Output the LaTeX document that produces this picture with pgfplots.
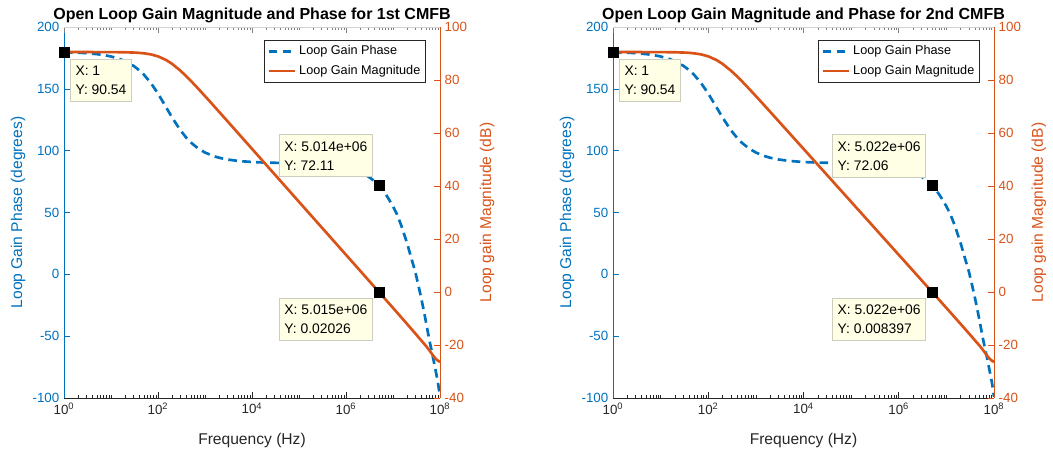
\documentclass[border=0pt]{standalone}
\usepackage{fontspec}
\setmainfont{Liberation Sans}
\usepackage{pgfplots}
\pgfplotsset{compat=1.18}
\usepackage{pgfplotstable}

\definecolor{mblue}{HTML}{0072BD}
\definecolor{morange}{HTML}{D95319}
\definecolor{mgray}{HTML}{262626}
\definecolor{tipfill}{HTML}{FFFFE5}
\definecolor{tipedge}{HTML}{CDCDC0}

% Loop gain phase (degrees)
\pgfplotstableread{
f ph
1 179.62
2 179.23
3 178.85
5 178.08
7 177.32
10 176.17
15 174.27
20 172.38
30 168.65
40 165.00
50 161.48
70 154.89
100 146.20
150 134.88
200 126.76
300 116.47
400 110.50
500 106.63
700 102.05
1000 98.50
1500 95.69
2000 94.27
3000 92.85
5000 91.71
1e4 90.82
2e4 90.36
5e4 89.99
1e5 89.72
2e5 89.30
5e5 88.17
1e6 86.31
2e6 82.66
3e6 79.00
4e6 75.50
5e6 72.11
6e6 68.30
7e6 64.80
8e6 61.30
1e7 55.00
1.2e7 49.00
1.5e7 39.50
2e7 25.00
2.5e7 12.00
3e7 1.50
3.5e7 -9.50
4e7 -19.50
4.5e7 -29.00
5e7 -38.00
5.5e7 -46.50
6e7 -54.00
7e7 -66.00
8e7 -77.00
9e7 -87.00
1e8 -99.00
}\phasetab

% Loop gain magnitude (dB)
\pgfplotstableread{
f m
1 90.54
3 90.54
7 90.53
10 90.52
15 90.50
20 90.46
30 90.37
40 90.24
50 90.08
70 89.68
100 88.93
150 87.51
200 86.08
300 83.52
400 81.42
500 79.68
700 76.93
1000 73.93
1500 70.46
2000 67.98
3000 64.47
5000 60.04
1e4 54.03
1e5 34.03
1e6 14.03
2e6 8.01
5e6 0.02
1e7 -6.00
2e7 -12.10
3e7 -15.70
4e7 -18.30
5e7 -20.30
6e7 -22.10
7e7 -23.80
8e7 -25.10
9e7 -25.90
1e8 -26.40
}\magtab

\tikzset{
  phasestyle/.style={mblue, line width=2pt, dash pattern=on 6.5pt off 4pt},
  magstyle/.style={morange, line width=2pt},
  datatip/.style={draw=tipedge, line width=0.5pt, fill=tipfill, align=left, text=black,
    font=\fontsize{10.4}{14.25}\selectfont, inner xsep=3.9pt, inner ysep=5pt},
}

\pgfplotsset{
  mybase/.style={
    scale only axis, height=278.25pt,
    xmin=1, xmax=1e8,
    xtick={1,1e2,1e4,1e6,1e8},
    minor xtick={2,3,4,5,6,7,8,9,10,20,30,40,50,60,70,80,90,
      200,300,400,500,600,700,800,900,1000,2000,3000,4000,5000,6000,7000,8000,9000,
      2e4,3e4,4e4,5e4,6e4,7e4,8e4,9e4,1e5,2e5,3e5,4e5,5e5,6e5,7e5,8e5,9e5,
      2e6,3e6,4e6,5e6,6e6,7e6,8e6,9e6,1e7,2e7,3e7,4e7,5e7,6e7,7e7,8e7,9e7},
    tick align=inside,
    major tick length=4.5pt, minor tick length=2.5pt,
    xtick style={mgray, line width=0.5pt},
    tick label style={font=\fontsize{10}{12}\selectfont},
  },
  myphaseaxis/.style={mybase,
    axis x line*=bottom, axis y line*=left,
    tick align=inside,
    x axis line style={mgray, line width=0.6pt},
    y axis line style={mblue, line width=0.6pt},
    ymin=-100, ymax=200, ytick={-100,-50,0,50,100,150,200},
    yticklabels={-100,-50,0,50,100,150,200},
    ytick style={mblue, line width=0.5pt},
    yticklabel style={mblue},
    xticklabels={10\textsuperscript{0},10\textsuperscript{2},10\textsuperscript{4},10\textsuperscript{6},10\textsuperscript{8}},
    xticklabel style={mgray},
    xlabel={Frequency (Hz)},
    xlabel style={font=\fontsize{11.7}{14}\selectfont, text=mgray, anchor=center,
      at={(axis description cs:0.5,-0.1132)}},
    ylabel={Loop Gain Phase (degrees)},
    ylabel style={font=\fontsize{11.7}{14}\selectfont, text=mblue, anchor=center},
    title style={font=\fontsize{12}{14}\selectfont\bfseries, anchor=center, text=black,
      at={(axis description cs:0.5,1.0108)}},
  },
  mymagaxis/.style={mybase,
    axis x line*=top, axis y line*=right,
    tick align=inside,
    x axis line style={gray!35, line width=0.3pt},
    xtick style={gray, line width=0.5pt},
    xticklabels={},
    y axis line style={morange, line width=0.6pt},
    ymin=-40, ymax=100, ytick={-40,-20,0,20,40,60,80,100},
    yticklabels={-40,-20,0,20,40,60,80,100},
    ytick style={morange, line width=0.5pt},
    yticklabel style={morange},
    ylabel={Loop gain Magnitude (dB)},
    ylabel style={font=\fontsize{11.7}{14}\selectfont, text=morange, anchor=center},
    legend style={at={(axis description cs:1,1)}, anchor=north east,
      xshift=-10.5pt, yshift=-9.75pt, draw=mgray, line width=0.5pt, fill=white,
      font=\fontsize{9.5}{11}\selectfont, inner xsep=2pt, inner ysep=2pt,
      row sep=2.5pt, cells={anchor=west}},
    legend image code/.code={\draw[##1] (0pt,0pt) -- (20pt,0pt);},
  },
}

\begin{document}
\begin{tikzpicture}
\useasboundingbox (0,0) rectangle (789.75pt,341.25pt);

% ---------------- Plot 1 ----------------
\begin{semilogxaxis}[myphaseaxis, width=282pt, at={(48pt,42.75pt)}, anchor=south west,
  ylabel style={at={(axis description cs:-0.1223,0.5)}},
  title={Open Loop Gain Magnitude and Phase for 1st CMFB}]
\addplot[phasestyle] table[x=f,y=ph]{\phasetab};
\addplot[only marks, mark=square*, mark size=3.75pt, mark options={fill=black, draw=black, line width=0.4pt}]
  coordinates {(5.014e6,72.11)};
\node[datatip, anchor=south east] at ([xshift=-4.5pt,yshift=6pt]axis cs:5.014e6,72.11) {X: 5.014e+06\\Y: 72.11};
\end{semilogxaxis}
\begin{semilogxaxis}[mymagaxis, width=282pt, at={(48pt,42.75pt)}, anchor=south west,
  ylabel style={at={(axis description cs:1.125,0.5)}}]
\addlegendimage{phasestyle}
\addlegendentry{Loop Gain Phase}
\addplot[magstyle] table[x=f,y=m]{\magtab};
\addlegendentry{Loop Gain Magnitude}
\addplot[forget plot, only marks, mark=square*, mark size=3.75pt, mark options={fill=black, draw=black, line width=0.4pt}]
  coordinates {(1,90.54) (5.015e6,0.02026)};
\node[datatip, anchor=north west] at ([xshift=4.5pt,yshift=-5.25pt]axis cs:1,90.54) {X: 1\\Y: 90.54};
\node[datatip, anchor=north east] at ([xshift=-4.5pt,yshift=-4.5pt]axis cs:5.015e6,0.02026) {X: 5.015e+06\\Y: 0.02026};
\end{semilogxaxis}

% ---------------- Plot 2 ----------------
\begin{semilogxaxis}[myphaseaxis, width=285.75pt, at={(459.75pt,42.75pt)}, anchor=south west,
  ylabel style={at={(axis description cs:-0.1207,0.5)}},
  title={Open Loop Gain Magnitude and Phase for 2nd CMFB}]
\addplot[phasestyle] table[x=f,y=ph]{\phasetab};
\addplot[only marks, mark=square*, mark size=3.75pt, mark options={fill=black, draw=black, line width=0.4pt}]
  coordinates {(5.022e6,72.06)};
\node[datatip, anchor=south east] at ([xshift=-4.5pt,yshift=6pt]axis cs:5.022e6,72.06) {X: 5.022e+06\\Y: 72.06};
\end{semilogxaxis}
\begin{semilogxaxis}[mymagaxis, width=285.75pt, at={(459.75pt,42.75pt)}, anchor=south west,
  ylabel style={at={(axis description cs:1.118,0.5)}}]
\addlegendimage{phasestyle}
\addlegendentry{Loop Gain Phase}
\addplot[magstyle] table[x=f,y=m]{\magtab};
\addlegendentry{Loop Gain Magnitude}
\addplot[forget plot, only marks, mark=square*, mark size=3.75pt, mark options={fill=black, draw=black, line width=0.4pt}]
  coordinates {(1,90.54) (5.022e6,0.008397)};
\node[datatip, anchor=north west] at ([xshift=4.5pt,yshift=-5.25pt]axis cs:1,90.54) {X: 1\\Y: 90.54};
\node[datatip, anchor=north east] at ([xshift=-4.5pt,yshift=-4.5pt]axis cs:5.022e6,0.008397) {X: 5.022e+06\\Y: 0.008397};
\end{semilogxaxis}
\end{tikzpicture}
\end{document}
